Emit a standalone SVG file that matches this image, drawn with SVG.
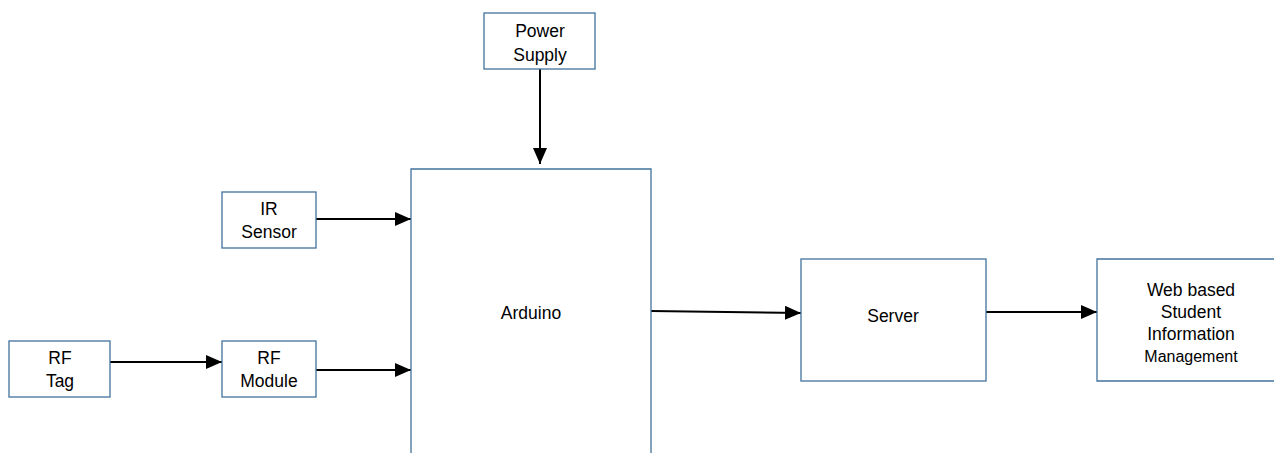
<svg xmlns="http://www.w3.org/2000/svg" width="1274" height="453" viewBox="0 0 1274 453">
<style>
.box{fill:#fff;stroke:#41719c;stroke-width:1.3}
.t{font-family:"Liberation Sans",Arial,sans-serif;font-size:17.5px;fill:#000;text-anchor:middle}
.c{stroke:#000;stroke-width:2;fill:none;marker-end:url(#ah)}
</style>
<defs>
<marker id="ah" markerWidth="16" markerHeight="14" refX="16" refY="7" orient="auto" markerUnits="userSpaceOnUse">
<path d="M0,0 L16,7 L0,14 Z" fill="#000"/>
</marker>
</defs>
<rect width="1274" height="453" fill="#fff"/>
<g id="connectors">
<line class="c" x1="540" y1="69" x2="540" y2="164"/>
<line class="c" x1="316" y1="219" x2="411" y2="219"/>
<line class="c" x1="110" y1="362" x2="222" y2="362"/>
<line class="c" x1="316" y1="370" x2="411" y2="370"/>
<line class="c" x1="651" y1="311" x2="801" y2="313"/>
<line class="c" x1="986" y1="312" x2="1097" y2="312"/>
</g>
<g id="power">
<rect class="box" x="484" y="13" width="111" height="56"/>
<text class="t" x="540" y="37">Power</text>
<text class="t" x="540" y="61">Supply</text>
</g>
<g id="arduino">
<path class="box" d="M411,454 V169 H651 V454"/>
<text class="t" x="531" y="319">Arduino</text>
</g>
<g id="ir">
<rect class="box" x="222" y="192" width="94" height="56"/>
<text class="t" x="269" y="215">IR</text>
<text class="t" x="269" y="238">Sensor</text>
</g>
<g id="rftag">
<rect class="box" x="9" y="341" width="101" height="56"/>
<text class="t" x="60" y="364">RF</text>
<text class="t" x="60" y="387">Tag</text>
</g>
<g id="rfmodule">
<rect class="box" x="222" y="341" width="94" height="56"/>
<text class="t" x="269" y="364">RF</text>
<text class="t" x="269" y="387">Module</text>
</g>
<g id="server">
<rect class="box" x="801" y="259" width="185" height="122"/>
<text class="t" x="893" y="322">Server</text>
</g>
<g id="web">
<path class="box" d="M1275,259 H1097 V381 H1275"/>
<text class="t" x="1191" y="296">Web based</text>
<text class="t" x="1191" y="318">Student</text>
<text class="t" x="1191" y="340">Information</text>
<text class="t" x="1191" y="362" style="font-size:16px">Management</text>
</g>
</svg>
